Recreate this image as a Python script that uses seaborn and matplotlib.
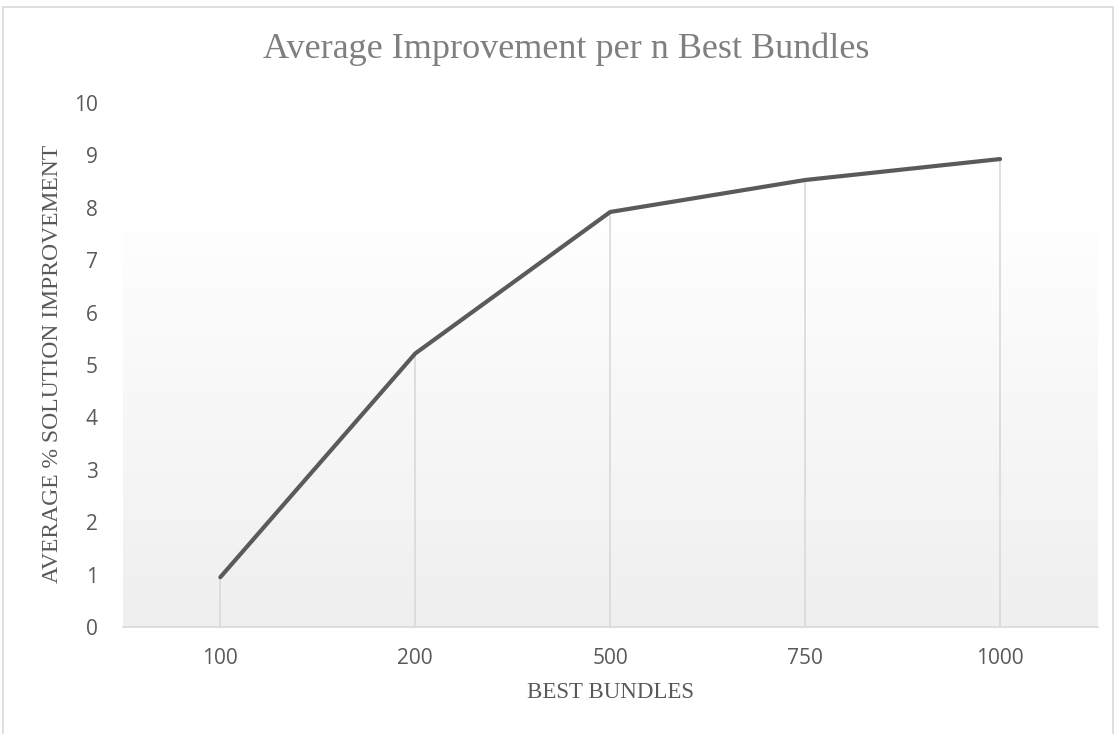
import numpy as np
import pandas as pd
import matplotlib
matplotlib.use("Agg")
import matplotlib.pyplot as plt
import seaborn as sns
from matplotlib.colors import LinearSegmentedColormap
from matplotlib.patches import Rectangle

bundles = ["100", "200", "500", "750", "1000"]
improvement = [0.95, 5.22, 7.92, 8.53, 8.93]
y_ticks = [0, 1, 2, 3, 4, 5, 6, 7, 8, 9, 10]

df = pd.DataFrame({"bundles": bundles, "improvement": improvement})

sns.set_style("white")
fig = plt.figure(figsize=(11.17, 7.34), dpi=100)
ax = fig.add_axes([0.110, 0.1458, 0.8726, 0.7139])

# light gradient behind the plot area (white at top, light grey at the axis)
grad = np.linspace(0, 1, 256).reshape(-1, 1)
cmap = LinearSegmentedColormap.from_list("bg", ["#efefef", "#ffffff"])
ax.imshow(grad, extent=[-0.5, len(bundles) - 0.5, 0, 8.0], origin="lower",
          aspect="auto", cmap=cmap, zorder=0)

xs = np.arange(len(bundles))
ax.vlines(xs, 0, improvement, color="#d9d9d9", linewidth=1.2, zorder=1)

sns.lineplot(data=df, x="bundles", y="improvement", ax=ax, color="#5a5a5a",
             linewidth=3.0, sort=False, zorder=3)
for line in ax.lines:
    line.set_solid_capstyle("round")

ax.set_xlim(-0.5, len(bundles) - 0.5)
ax.set_ylim(0, 10)
ax.set_yticks(y_ticks)
ax.set_xticks(xs)
ax.set_xticklabels(bundles)

for s in ["top", "right", "left"]:
    ax.spines[s].set_visible(False)
ax.spines["bottom"].set_color("#d9d9d9")
ax.spines["bottom"].set_linewidth(1.2)
ax.tick_params(length=0, labelsize=15, colors="#595959")
ax.tick_params(axis="x", pad=15)
ax.tick_params(axis="y", pad=18)
for lab in ax.get_xticklabels() + ax.get_yticklabels():
    lab.set_family("Open Sans")
ax.set_xlabel("")
ax.set_ylabel("")

fig.text(0.547, 0.0572, "BEST BUNDLES", family="Liberation Serif", fontsize=16.5,
         color="#595959", ha="center", va="center")
fig.text(0.047, 0.504, "AVERAGE % SOLUTION IMPROVEMENT", family="Liberation Serif",
         fontsize=17, color="#595959", ha="center", va="center", rotation=90)
fig.text(0.507, 0.921, "Average Improvement per n Best Bundles",
         family="Liberation Serif", fontsize=26, color="#7f7f7f",
         ha="center", va="baseline")

fig.patches.append(Rectangle((0.003, -0.01), 0.993, 1.0, transform=fig.transFigure,
                             fill=False, edgecolor="#d9d9d9", linewidth=1.2))

fig.savefig("out.png", dpi=100)
